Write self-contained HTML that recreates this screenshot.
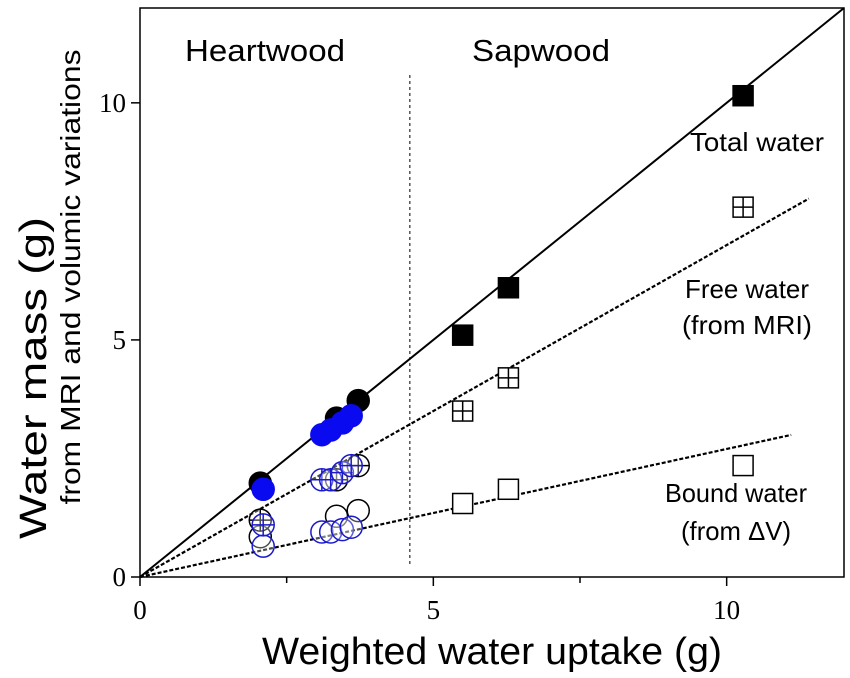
<!DOCTYPE html>
<html><head><meta charset="utf-8"><style>
html,body{margin:0;padding:0;background:#fff;}
svg{display:block;font-family:"Liberation Sans",sans-serif;}
</style></head><body>
<svg id="chart" width="850" height="678" viewBox="0 0 850 678"></svg>
<script>
const xTicks=[0,5,10];
const yTicks=[0,5,10];
const xMinor=[2.5,7.5];
const sapX=[5.5,6.28,10.28];
const sapTotal=[5.1,6.1,10.15];
const sapFree=[3.5,4.2,7.8];
const sapBound=[1.55,1.85,2.35];
const hwBlackX=[2.05,3.35,3.72];
const hwBlackTotal=[1.98,3.35,3.72];
const hwBlackFree=[1.2,2.05,2.35];
const hwBlackBound=[0.85,1.28,1.4];
const hwBlueX=[2.1,3.1,3.25,3.45,3.6];
const hwBlueTotal=[1.85,3.0,3.1,3.25,3.4];
const hwBlueFree=[1.1,2.05,2.05,2.2,2.35];
const hwBlueBound=[0.65,0.95,0.95,1.0,1.05];
const slopes=[1.0,0.70,0.27];
const lineEnds=[12,11.4,11.1];
const boundaryX=4.6;

const NS="http://www.w3.org/2000/svg";
const svg=document.getElementById('chart');
const X0=140,X1=844,Y0=577,Y1=8;
const sx=v=>X0+v*(X1-X0)/12;
const sy=v=>Y0-v*(Y0-Y1)/12;
function el(tag,attrs,parent){const e=document.createElementNS(NS,tag);for(const k in attrs)e.setAttribute(k,attrs[k]);(parent||svg).appendChild(e);return e;}
function txt(s,attrs){const t=el('text',attrs);t.textContent=s;return t;}

let f=el('rect',{x:X0,y:Y1,width:X1-X0,height:Y0-Y1,fill:'none',stroke:'#000','stroke-width':1.5});



xTicks.forEach(v=>{
 let l=el('line',{x1:sx(v),x2:sx(v),y1:Y0,y2:Y0+9,stroke:'#000','stroke-width':1.5});
 
 
 let t=txt(String(v),{x:sx(v),y:Y0+42,'text-anchor':'middle','font-size':27,'font-family':'Liberation Serif, serif'});
 
 
});
xMinor.forEach(v=>{
 let l=el('line',{x1:sx(v),x2:sx(v),y1:Y0,y2:Y0+6,stroke:'#000','stroke-width':1.5});
 
 
});
yTicks.forEach(v=>{
 let l=el('line',{x1:X0-9,x2:X0,y1:sy(v),y2:sy(v),stroke:'#000','stroke-width':1.5});
 
 
 let t=txt(String(v),{x:X0-14,y:sy(v)+9,'text-anchor':'end','font-size':27,'font-family':'Liberation Serif, serif'});
 
 
});

let b=el('line',{x1:sx(boundaryX),x2:sx(boundaryX),y1:75,y2:565,stroke:'#000','stroke-width':1,'stroke-dasharray':'3,3'});



const lineNames=['total-water-fit','free-water-fit','bound-water-fit'];
slopes.forEach((s,i)=>{
 let l=el('line',{x1:sx(0),y1:sy(0),x2:sx(lineEnds[i]),y2:sy(lineEnds[i]*s),stroke:'#000','stroke-width':i?2.2:2,'stroke-dasharray':i?'4,2':'none'});
 
 
});

function circle(x,y,color,type,name){
 const g=el('g',{});
 
 
 const cx=sx(x),cy=sy(y),r=11;
 el('circle',{cx,cy,r,fill:type==='filled'?color:'rgba(255,255,255,0.3)',stroke:color,'stroke-width':1.5},g);
 if(type==='cross'){
  el('line',{x1:cx-r,x2:cx+r,y1:cy,y2:cy,stroke:color,'stroke-width':1.5},g);
  el('line',{x1:cx,x2:cx,y1:cy-r,y2:cy+r,stroke:color,'stroke-width':1.5},g);
 }
}
function square(x,y,type,name){
 const g=el('g',{});
 
 
 const cx=sx(x),cy=sy(y),h=10;
 el('rect',{x:cx-h,y:cy-h,width:2*h,height:2*h,fill:type==='filled'?'#000':'#fff',stroke:'#000','stroke-width':1.5},g);
 if(type==='cross'){
  el('line',{x1:cx-h,x2:cx+h,y1:cy,y2:cy,stroke:'#000','stroke-width':1.5},g);
  el('line',{x1:cx,x2:cx,y1:cy-h,y2:cy+h,stroke:'#000','stroke-width':1.5},g);
 }
}
hwBlackX.forEach((x,i)=>{
 circle(x,hwBlackBound[i],'#000','open','heartwood-bound-point');
 circle(x,hwBlackFree[i],'#000','cross','heartwood-free-point');
 circle(x,hwBlackTotal[i],'#000','filled','heartwood-total-point');
});
hwBlueX.forEach((x,i)=>{
 circle(x,hwBlueBound[i],'#1a1acc','open','heartwood-bound-point-blue');
 circle(x,hwBlueFree[i],'#1a1acc','cross','heartwood-free-point-blue');
 circle(x,hwBlueTotal[i],'#0a0af0','filled','heartwood-total-point-blue');
});
sapX.forEach((x,i)=>{
 square(x,sapTotal[i],'filled','sapwood-total-point');
 square(x,sapFree[i],'cross','sapwood-free-point');
 square(x,sapBound[i],'open','sapwood-bound-point');
});

const labels=[
 ['Heartwood',265,61,31,'heartwood-label',160],
 ['Sapwood',541,61,31,'sapwood-label',138],
 ['Total water',757,151,26,'total-water-label',134],
 ['Free water',747,298,26,'free-water-label',124],
 ['(from MRI)',747,334,26,'free-water-source-label',130],
 ['Bound water',736,502,26,'bound-water-label',142],
 ['(from \u0394V)',736,540,26,'bound-water-source-label',110],
 ['Weighted water uptake (g)',492,664,38,'x-axis-title',460]
];
labels.forEach(a=>{
 let t=txt(a[0],{x:a[1],y:a[2],'font-size':a[3],'text-anchor':'middle',textLength:a[5],lengthAdjust:'spacingAndGlyphs'});
 
 
});
let y1=txt('Water mass  (g)',{x:0,y:0,'font-size':38,'text-anchor':'middle',transform:'translate(46,378) rotate(-90)','xml:space':'preserve',textLength:322,lengthAdjust:'spacingAndGlyphs'});


let y2=txt('from MRI and volumic variations',{x:0,y:0,'font-size':28,'text-anchor':'middle',transform:'translate(80,277) rotate(-90)',textLength:455,lengthAdjust:'spacingAndGlyphs'});


</script>
</body></html>
